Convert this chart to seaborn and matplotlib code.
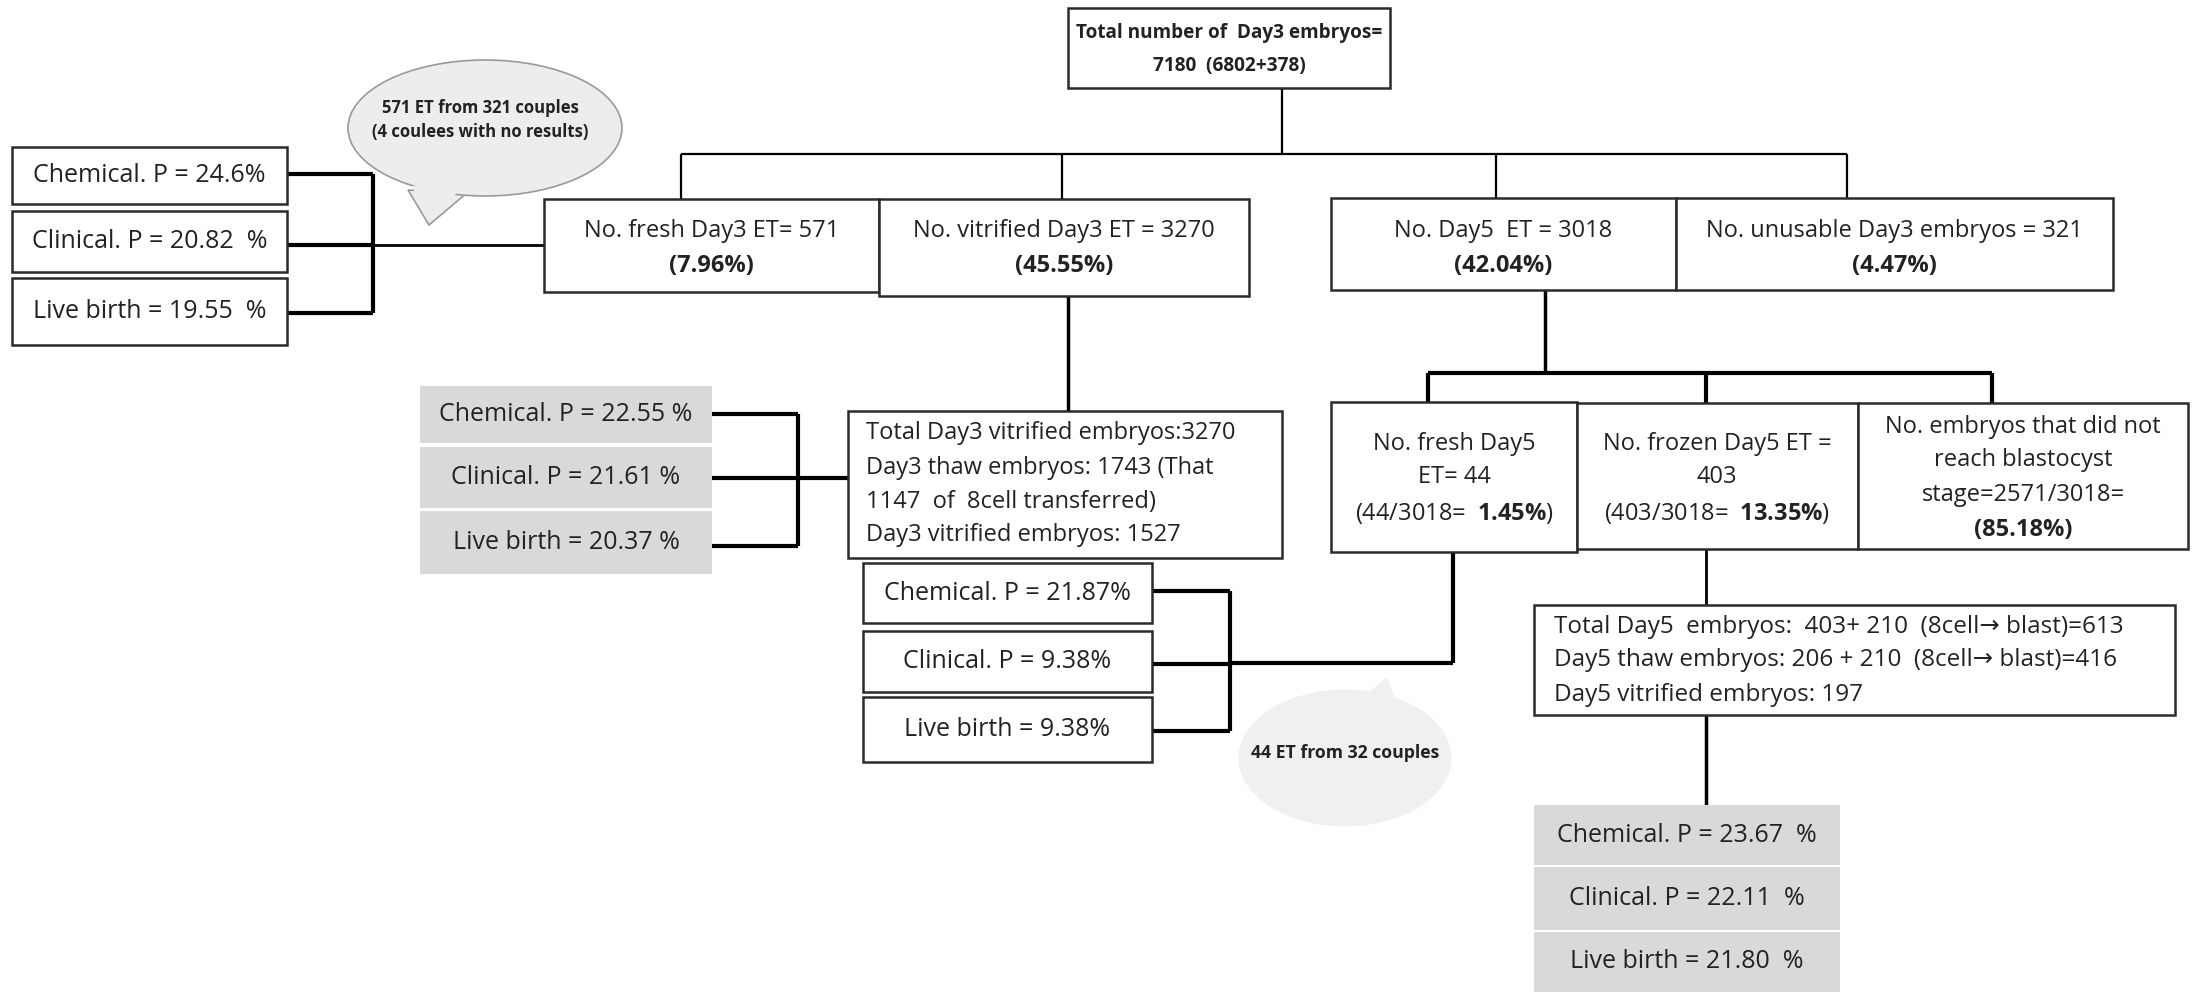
import matplotlib
matplotlib.use('Agg')
import numpy as np
import seaborn as sns
import matplotlib.pyplot as plt
from matplotlib.patches import Rectangle, Ellipse, Polygon

sns.set_theme(style='white')
plt.rcParams['font.family'] = ['Open Sans', 'DejaVu Sans']
plt.rcParams['mathtext.fontset'] = 'custom'
plt.rcParams['mathtext.rm'] = 'Open Sans'
plt.rcParams['mathtext.bf'] = 'Open Sans:bold'

# numbers of the flow chart
total_day3 = 7180
total_parts = [6802, 378]
branch_names = ['No. fresh Day3 ET= ', 'No. vitrified Day3 ET = ', 'No. Day5  ET = ', 'No. unusable Day3 embryos = ']
branch_counts = [571, 3270, 3018, 321]
branch_pcts = [7.96, 45.55, 42.04, 4.47]
day5_total = 3018
day5_counts = [44, 403, 2571]
day5_pcts = [1.45, 13.35, 85.18]

outcomes = ['Chemical. P', 'Clinical. P', 'Live birth']
fresh_d3_rates = ['24.6%', '20.82  %', '19.55  %']
vitr_d3_rates = ['22.55 %', '21.61 %', '20.37 %']
fresh_d5_rates = ['21.87%', '9.38%', '9.38%']
frozen_d5_rates = ['23.67  %', '22.11  %', '21.80  %']

d3_vitr_lines = ['Total Day3 vitrified embryos:3270',
                 'Day3 thaw embryos: 1743 (That',
                 '1147  of  8cell transferred)',
                 'Day3 vitrified embryos: 1527']
d5_lines = ['Total Day5  embryos:  403+ 210  (8cell\u2192 blast)=613',
            'Day5 thaw embryos: 206 + 210  (8cell\u2192 blast)=416',
            'Day5 vitrified embryos: 197']
bubble1_lines = ['571 ET from 321 couples', '(4 coulees with no results)']
bubble2_text = '44 ET from 32 couples'

FS = 17
FS_OUT = 18
EDGE = '#2b2b2b'
GREY = '#d9d9d9'

fig = plt.figure(figsize=(21.92, 9.92), dpi=100)
ax = fig.add_axes([0, 0, 1, 1])
ax.set_xlim(0, 2192)
ax.set_ylim(992, 0)
ax.axis('off')


def box(x0, y0, x1, y1, fc='white', ec=EDGE, lw=1.8):
    ax.add_patch(Rectangle((x0, y0), x1 - x0, y1 - y0, facecolor=fc,
                           edgecolor=ec, linewidth=lw, zorder=2))


def line(xs, ys, lw=1.6):
    ax.plot(xs, ys, color='black', linewidth=lw, solid_capstyle='butt', zorder=1)


def txt(x, y, s, size=FS, weight='normal', ha='center'):
    ax.text(x, y, s, ha=ha, va='center', fontsize=size, fontweight=weight,
            color='#222222', zorder=3)


def outcome_stack(x0, x1, tops, bottoms, rates, fc, ec, lw):
    for name, r, t, b in zip(outcomes, rates, tops, bottoms):
        box(x0, t, x1, b, fc=fc, ec=ec, lw=lw)
        txt((x0 + x1) / 2, (t + b) / 2, f'{name} = {r}', size=FS_OUT)


# top box
box(1068, 8, 1390, 88)
txt(1229, 33, 'Total number of  Day3 embryos=', size=13.7, weight='bold')
txt(1229, 66, f'{total_day3}  ({total_parts[0]}+{total_parts[1]})', size=13.7, weight='bold')

# first level tree
line([1282, 1282], [88, 154])
line([681, 1847], [154, 154])
for xd in [681, 1062, 1496, 1847]:
    line([xd, xd], [154, 199])

row2 = [(544, 879, 199, 292), (879, 1249, 199, 296), (1331, 1676, 198, 290), (1676, 2113, 198, 290)]
for (x0, x1, y0, y1), nm, c, p in zip(row2, branch_names, branch_counts, branch_pcts):
    box(x0, y0, x1, y1)
    txt((x0 + x1) / 2, 231, f'{nm}{c}')
    txt((x0 + x1) / 2, 266, f'({p:.2f}%)', weight='bold')

# fresh day3 outcomes (top left)
outcome_stack(12, 287, [147, 211, 278], [204, 272, 345], fresh_d3_rates, 'white', EDGE, 1.8)
for yy in [174, 245, 313]:
    line([287, 373], [yy, yy], lw=3)
line([373, 373], [174, 313], lw=3)
line([373, 544], [245, 245], lw=2)

# bubble 1
ax.add_patch(Polygon([[408, 190], [429, 225], [468, 192]], closed=True,
                     facecolor='#ededed', edgecolor='#9a9a9a', linewidth=1.2, zorder=2))
ax.add_patch(Ellipse((485, 128), 274, 136, facecolor='#ededed', edgecolor='#9a9a9a',
                     linewidth=1.2, zorder=2))
ax.add_patch(Polygon([[412, 186], [429, 220], [464, 186]], closed=True,
                     facecolor='#ededed', edgecolor='none', zorder=2))
txt(480, 108, bubble1_lines[0], size=12, weight='bold')
txt(480, 132, bubble1_lines[1], size=12, weight='bold')

# vitrified day3 detail
line([1068, 1068], [296, 411], lw=2.5)
box(848, 411, 1282, 558)
for yy, s in zip([433, 468, 502, 535], d3_vitr_lines):
    txt(866, yy, s, ha='left')

outcome_stack(420, 712, [386, 447, 511], [443, 508, 574], vitr_d3_rates, GREY, 'none', 0)
for yy in [414, 478, 546]:
    line([712, 798], [yy, yy], lw=3)
line([798, 798], [414, 546], lw=3)
line([798, 848], [478, 478], lw=3)

# day5 tree
line([1545, 1545], [290, 373], lw=2.5)
line([1428, 1992], [373, 373], lw=3)
for xd in [1428, 1706, 1992]:
    line([xd, xd], [373, 403], lw=3)

box(1331, 402, 1577, 552)
txt(1454, 444, 'No. fresh Day5')
txt(1454, 477, f'ET= {day5_counts[0]}')
txt(1454, 513, f'({day5_counts[0]}/{day5_total}=  $\\mathbf{{{day5_pcts[0]:.2f}\\%}}$)')

box(1577, 403, 1858, 549)
txt(1717, 444, 'No. frozen Day5 ET =')
txt(1717, 477, f'{day5_counts[1]}')
txt(1717, 513, f'({day5_counts[1]}/{day5_total}=  $\\mathbf{{{day5_pcts[1]:.2f}\\%}}$)')

box(1858, 403, 2188, 549)
txt(2023, 427, 'No. embryos that did not')
txt(2023, 460, 'reach blastocyst')
txt(2023, 495, f'stage={day5_counts[2]}/{day5_total}=')
txt(2023, 530, f'({day5_pcts[2]:.2f}%)', weight='bold')

# fresh day5 outcomes
line([1453, 1453], [552, 663], lw=3)
line([1230, 1453], [663, 663], lw=3)
outcome_stack(863, 1152, [563, 631, 697], [623, 692, 762], fresh_d5_rates, 'white', EDGE, 1.8)
for yy in [591, 664, 731]:
    line([1152, 1230], [yy, yy], lw=3)
line([1230, 1230], [591, 731], lw=3)

# bubble 2
ax.add_patch(Ellipse((1345, 758), 213, 137, facecolor='#f0f0f0', edgecolor='none', zorder=0))
ax.add_patch(Polygon([[1360, 700], [1387, 677], [1398, 708]], closed=True,
                     facecolor='#f0f0f0', edgecolor='none', zorder=0))
txt(1345, 753, bubble2_text, size=12.7, weight='bold')

# frozen day5 detail
line([1706, 1706], [549, 605], lw=2)
box(1534, 605, 2175, 715)
for yy, s in zip([627, 660, 695], d5_lines):
    txt(1554, yy, s, ha='left', size=17.5)
line([1706, 1706], [715, 805], lw=2.5)

outcome_stack(1534, 1840, [805, 867, 932], [865, 930, 992], frozen_d5_rates, GREY, 'none', 0)

fig.savefig('out.png', dpi=100)
